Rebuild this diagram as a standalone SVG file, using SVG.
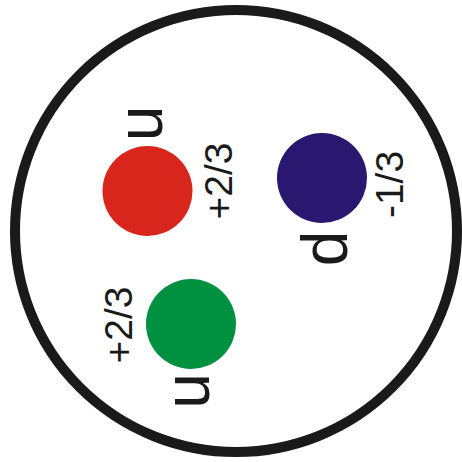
<svg xmlns="http://www.w3.org/2000/svg" width="462" height="462" viewBox="0 0 462 462">
<style>
.lbl{font-family:"Liberation Sans",Arial,sans-serif;fill:#1a1a1a;text-anchor:middle}
.q{font-size:64px}
.c{font-size:39px}
</style>
<rect width="462" height="462" fill="#ffffff"/>
<g id="proton">
<circle cx="236" cy="231" r="221" fill="none" stroke="#1a1a1a" stroke-width="10"/>
</g>
<g id="quark-u-red">
<circle cx="147.5" cy="191" r="45" fill="#d9261c"/>
<text class="lbl q" transform="translate(162,123.5) rotate(-90)">u</text>
<text class="lbl c" transform="translate(232,181) rotate(-90)">+2/3</text>
</g>
<g id="quark-d-blue">
<circle cx="322" cy="178" r="45" fill="#2a1870"/>
<text class="lbl q" transform="translate(347,248.5) rotate(-90)">d</text>
<text class="lbl c" transform="translate(403,184.5) rotate(-90)">-1/3</text>
</g>
<g id="quark-u-green">
<circle cx="191" cy="324" r="45" fill="#009140"/>
<text class="lbl q" transform="translate(209,391) rotate(-90)">u</text>
<text class="lbl c" transform="translate(132,325) rotate(-90)">+2/3</text>
</g>
<g id="connectors"/>
</svg>
